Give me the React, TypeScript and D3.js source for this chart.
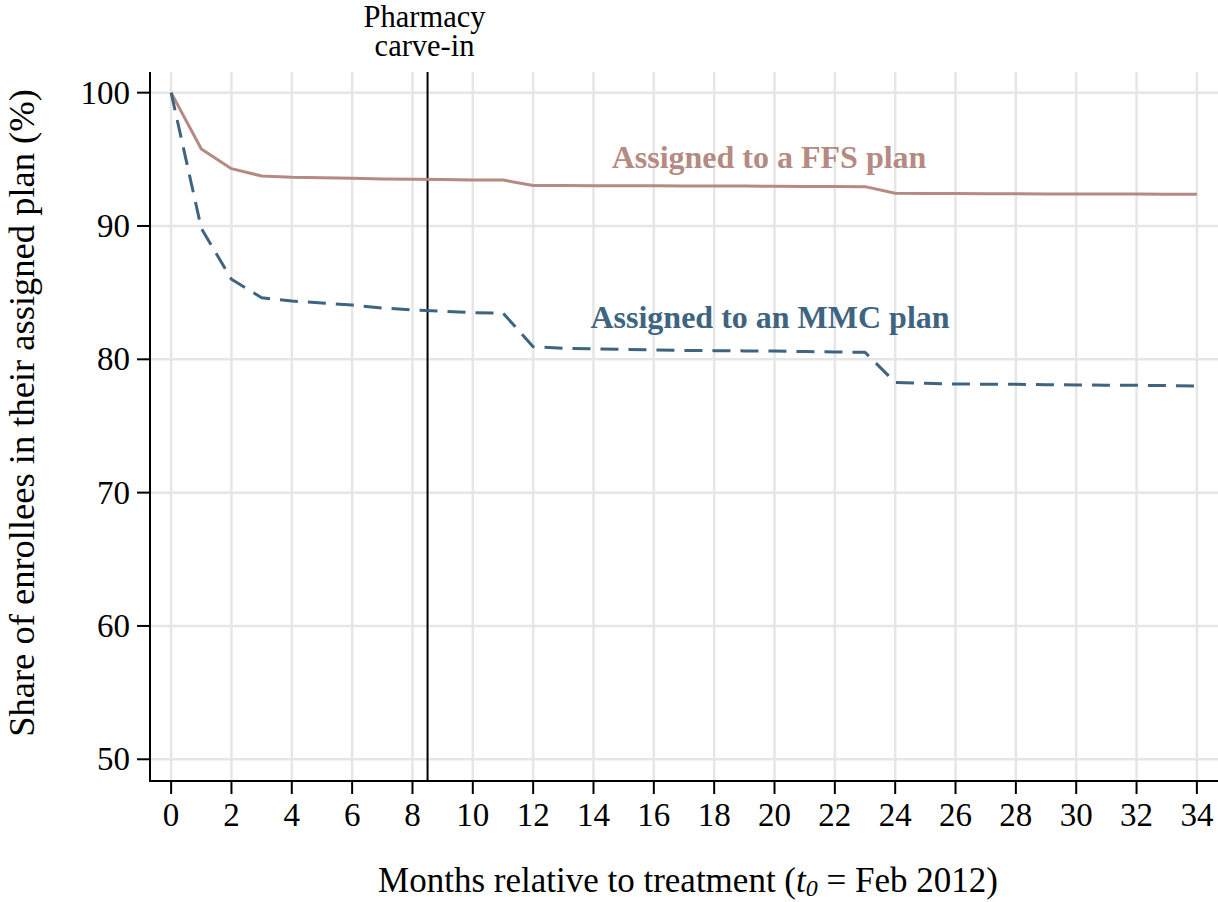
import React from "react";
import * as d3 from "d3";

// Months since assignment (t0 = Feb 2012)
const months: number[] = Array.from({ length: 35 }, (_, i) => i);

// Share (%) still enrolled in the assigned plan, FFS assignees
const ffsShare: number[] = [
  100, 95.78, 94.3, 93.75, 93.65, 93.62, 93.58, 93.53, 93.5, 93.48, 93.45, 93.45,
  93.03, 93.03, 93.02, 93.02, 93.01, 93.0, 93.0, 92.99, 92.98, 92.97, 92.96, 92.95,
  92.45, 92.44, 92.43, 92.42, 92.41, 92.4, 92.4, 92.39, 92.39, 92.38, 92.38,
];

// Share (%) still enrolled in the assigned plan, MMC assignees
const mmcShare: number[] = [
  100, 89.83, 86.0, 84.62, 84.37, 84.22, 84.07, 83.85, 83.7, 83.6, 83.5, 83.47,
  80.95, 80.83, 80.78, 80.74, 80.7, 80.67, 80.65, 80.63, 80.62, 80.58, 80.55, 80.53,
  78.27, 78.2, 78.15, 78.13, 78.12, 78.1, 78.07, 78.06, 78.05, 78.03, 78.0,
];

const xTicks: number[] = d3.range(0, 35, 2);
const yTicks: number[] = [50, 60, 70, 80, 90, 100];
const carveInMonth = 8.5;

const W = 1218;
const H = 902;
const left = 150;
const right = 1218;
const top = 72;
const bottom = 781;

const FFS_COLOR = "#b48a82";
const MMC_COLOR = "#3e6480";
const GRID = "#e6e6e6";
const FONT = "'Liberation Serif', 'Times New Roman', serif";

export default function App() {
  const x = d3.scaleLinear().domain([-0.7, 34.7]).range([left, right]);
  const y = d3.scaleLinear().domain([48.37, 101.55]).range([bottom, top]);

  const line = d3
    .line<number>()
    .x((_, i) => x(months[i]))
    .y((d) => y(d));

  return (
    <svg
      width={W}
      height={H}
      style={{ position: "absolute", left: 0, top: 0, background: "#fff" }}
      fontFamily={FONT}
    >
      {/* grid */}
      {xTicks.map((t) => (
        <line key={"gx" + t} x1={x(t)} x2={x(t)} y1={top} y2={bottom} stroke={GRID} strokeWidth={2.5} />
      ))}
      {yTicks.map((t) => (
        <line key={"gy" + t} x1={left} x2={right} y1={y(t)} y2={y(t)} stroke={GRID} strokeWidth={2.5} />
      ))}

      {/* carve-in marker */}
      <line x1={x(carveInMonth)} x2={x(carveInMonth)} y1={top} y2={bottom} stroke="#000" strokeWidth={2} />
      <text x={x(carveInMonth) - 3} y={27} textAnchor="middle" fontSize={30.5} fill="#000">
        Pharmacy
      </text>
      <text x={x(carveInMonth) - 3} y={56} textAnchor="middle" fontSize={30.5} fill="#000">
        carve-in
      </text>

      {/* series */}
      <path d={line(ffsShare) ?? ""} fill="none" stroke={FFS_COLOR} strokeWidth={3} strokeLinejoin="round" />
      <path
        d={line(mmcShare) ?? ""}
        fill="none"
        stroke={MMC_COLOR}
        strokeWidth={3}
        strokeDasharray="18 10"
        strokeLinejoin="round"
      />

      {/* series labels */}
      <text x={769} y={168} textAnchor="middle" fontSize={32} fontWeight="bold" fill={FFS_COLOR}>
        Assigned to a FFS plan
      </text>
      <text x={770} y={328} textAnchor="middle" fontSize={32} fontWeight="bold" fill={MMC_COLOR}>
        Assigned to an MMC plan
      </text>

      {/* axes */}
      <line x1={left} x2={left} y1={top} y2={bottom + 1} stroke="#000" strokeWidth={2} />
      <line x1={left - 1} x2={right} y1={bottom} y2={bottom} stroke="#000" strokeWidth={2} />
      {yTicks.map((t) => (
        <g key={"ty" + t}>
          <line x1={left - 13} x2={left} y1={y(t)} y2={y(t)} stroke="#000" strokeWidth={2} />
          <text x={left - 20} y={y(t) + 11} textAnchor="end" fontSize={33} fill="#000">
            {t}
          </text>
        </g>
      ))}
      {xTicks.map((t) => (
        <g key={"tx" + t}>
          <line x1={x(t)} x2={x(t)} y1={bottom} y2={bottom + 13} stroke="#000" strokeWidth={2} />
          <text x={x(t)} y={826} textAnchor="middle" fontSize={33} fill="#000">
            {t}
          </text>
        </g>
      ))}

      {/* axis titles */}
      <text x={688} y={892} textAnchor="middle" fontSize={35} fill="#000">
        Months relative to treatment (
        <tspan fontStyle="italic">t</tspan>
        <tspan fontStyle="italic" fontSize={24} dy={4}>0</tspan>
        <tspan dy={-4}> = Feb 2012)</tspan>
      </text>
      <text
        transform={`translate(34, 413) rotate(-90)`}
        textAnchor="middle"
        fontSize={36.5}
        fill="#000"
      >
        Share of enrollees in their assigned plan (%)
      </text>
    </svg>
  );
}
